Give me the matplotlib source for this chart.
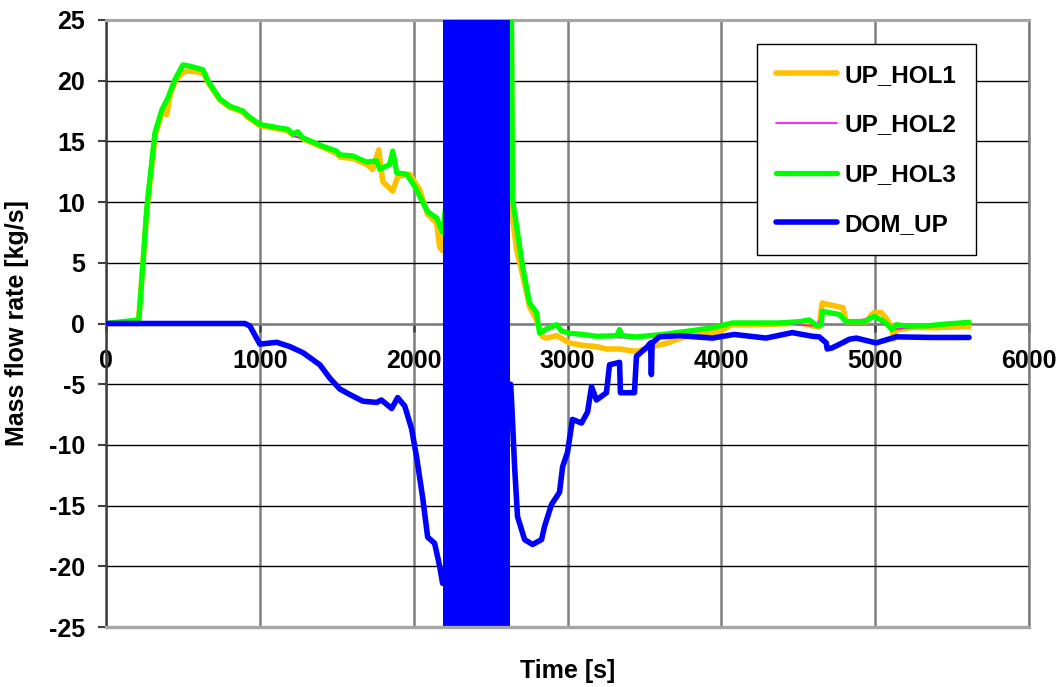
import numpy as np
import matplotlib
matplotlib.use("Agg")
import matplotlib.pyplot as plt

plt.rcParams["font.family"] = ["Liberation Sans", "DejaVu Sans"]
plt.rcParams["font.weight"] = "bold"
plt.rcParams["axes.unicode_minus"] = False

# UP_HOL1 (orange)
hol1_t = [0, 210, 232, 265, 300, 320, 365, 395, 420, 450, 500, 532, 610, 640,
          665, 710, 740, 805, 890, 920, 1000, 1130, 1180, 1215, 1250, 1280, 1410,
          1500, 1520, 1605, 1695, 1734, 1773, 1799, 1864, 1896, 1974, 2039, 2091,
          2149, 2169, 2188, 2400, 2632, 2640, 2669, 2708, 2753, 2799, 2838, 2864,
          2930, 3013, 3100, 3188, 3253, 3338, 3448, 3552, 3650, 3773, 3880, 3987,
          4071, 4200, 4377, 4506, 4636, 4650, 4656, 4682, 4753, 4790, 4812, 4942,
          4975, 4994, 5039, 5080, 5104, 5123, 5140, 5156, 5250, 5370, 5500, 5610]
hol1_v = [0, 0, 3.5, 9.2, 13.3, 15.5, 17.4, 17.2, 19.0, 20.0, 20.7, 20.8, 20.7, 20.5,
          19.8, 19.0, 18.4, 17.8, 17.4, 17.0, 16.3, 16.0, 15.9, 15.5, 15.6, 15.2, 14.5,
          14.0, 13.7, 13.6, 13.1, 12.7, 14.3, 11.7, 10.9, 12.1, 12.3, 11.0, 9.0,
          8.3, 6.3, 6.0, 30, 30, 9.0, 6.1, 4.0, 1.4, 0.3, -1.1, -1.2,
          -1.0, -1.6, -1.8, -1.9, -2.1, -2.1, -2.3, -1.9, -1.6, -1.05, -0.9, -0.65,
          -0.1, -0.1, -0.05, 0.05, -0.3, 1.2, 1.7, 1.6, 1.4, 1.3, 0.15, 0.15,
          0.7, 0.9, 0.9, 0.3, -0.25, -1.3, -0.3, -0.5, -0.3, -0.35, -0.3, -0.25]

# UP_HOL3 (green)
hol3_t = [0, 214, 234, 266, 299, 318, 363, 403, 448, 500, 545, 630, 662, 708, 740,
          805, 890, 922, 1000, 1130, 1182, 1214, 1247, 1279, 1409, 1500, 1519, 1604,
          1695, 1760, 1779, 1844, 1864, 1890, 1955, 2006, 2091, 2149, 2182, 2188,
          2400, 2636, 2643, 2675, 2708, 2753, 2799, 2818, 2870, 2929, 2960, 3013,
          3100, 3188, 3320, 3338, 3355, 3448, 3617, 3800, 3942, 4071, 4377, 4506,
          4571, 4623, 4650, 4656, 4701, 4766, 4812, 4929, 4994, 5058, 5110, 5136,
          5200, 5331, 5450, 5610]
hol3_v = [0, 0.3, 3.9, 9.6, 13.5, 15.7, 17.6, 18.6, 20.1, 21.3, 21.2, 20.9, 20.0, 19.1, 18.5,
          17.9, 17.5, 17.1, 16.4, 16.1, 16.0, 15.6, 15.8, 15.3, 14.6, 14.2, 13.9, 13.8,
          13.3, 13.4, 12.7, 13.1, 14.2, 12.4, 12.3, 11.3, 9.2, 8.7, 7.7, 7.5,
          30, 25, 10.2, 7.5, 4.7, 1.7, 0.9, -0.8, -0.4, -0.1, -0.6, -0.8,
          -0.9, -1.05, -1.0, -0.5, -1.0, -1.1, -0.9, -0.6, -0.35, 0.05, 0.05, 0.15,
          0.3, -0.2, -0.1, 1.0, 0.9, 0.75, 0.15, 0.15, 0.6, 0.15, -0.5, -0.1,
          -0.2, -0.2, -0.05, 0.1]

# UP_HOL2 (magenta, mostly hidden under UP_HOL3)
hol2_t = [0, 214, 234, 266, 299, 318, 363, 403, 448, 500, 545, 630, 662, 708, 740,
          805, 890, 922, 1000, 1130, 1182, 1230, 1255, 1290, 1409, 1500, 1519, 1604,
          1695, 1760, 1779, 1844, 1864, 1890, 1955, 2006, 2080, 2140, 2182, 2188,
          2400, 2636, 2643, 2675, 2708, 2753, 2799, 2818, 2929, 3013, 3188, 3448,
          3617, 3942, 4071, 4377, 4623, 4656, 4766, 4812, 4994, 5110, 5331, 5610]
hol2_v = [0, 0.3, 3.8, 9.5, 13.4, 15.6, 17.5, 18.5, 20.0, 21.2, 21.1, 20.8, 19.9, 19.0, 18.4,
          17.8, 17.4, 17.0, 16.3, 16.0, 15.9, 15.4, 15.3, 15.2, 14.5, 14.1, 13.8, 13.7,
          13.2, 13.3, 12.6, 13.0, 14.0, 12.3, 12.2, 11.2, 9.6, 8.8, 7.6, 7.4,
          30, 25, 10.1, 7.4, 4.6, 1.6, 0.8, -0.9, -0.2, -0.9, -1.1, -1.2,
          -1.0, -0.4, 0.0, 0.0, -0.2, 0.9, 0.7, 0.1, 0.5, -0.5, -0.2, 0.05]

# DOM_UP (blue); NaN splits the trace around the oscillating period
dom_t = [0, 903, 935, 1000, 1110, 1195, 1280, 1390, 1455, 1520, 1585, 1670, 1760,
         1790, 1857, 1896, 1942, 1987, 2019, 2058, 2091, 2136, 2169, 2188, 2400,
         2630, 2636, 2656, 2675, 2721, 2773, 2831, 2851, 2896, 2948, 2968, 3000,
         3032, 3091, 3130, 3156, 3188, 3253, 3273, 3338, 3344, 3435, 3448, 3520,
         3532, 3540, 3545, 3550, 3597, 3727, 3942, 4084, 4290, 4461, 4591, 4636,
         4682, 4688, 4721, 4786, 4831, 4877, 5006, 5136, 5370, 5610]
dom_v = [0, 0, -0.2, -1.7, -1.55, -1.9, -2.4, -3.4, -4.5, -5.4, -5.85, -6.4, -6.5,
         -6.3, -7.0, -6.1, -6.8, -8.7, -11.0, -14.3, -17.6, -18.1, -20.0, -21.4, np.nan,
         -5.0, -6.3, -11.8, -15.9, -17.8, -18.2, -17.8, -16.7, -14.9, -13.9, -11.8, -10.6,
         -7.9, -8.2, -7.3, -5.2, -6.3, -5.7, -3.4, -3.2, -5.7, -5.7, -2.7, -1.9,
         -1.7, -1.6, -4.2, -1.6, -1.1, -1.0, -1.2, -0.9, -1.2, -0.75, -1.05, -1.1,
         -1.6, -2.1, -2.0, -1.6, -1.3, -1.2, -1.6, -1.1, -1.15, -1.15]

# envelope of the fast DOM_UP oscillation (goes off scale both ways)
osc_t = [2188, 2623]
osc_lo = [-40, -40]
osc_hi = [40, 40]

x_ticks = [0, 1000, 2000, 3000, 4000, 5000, 6000]
y_ticks = [-25, -20, -15, -10, -5, 0, 5, 10, 15, 20, 25]

fig = plt.figure(figsize=(10.6, 6.87), dpi=100)
ax = fig.add_axes([0.1, 0.0873, 0.8708, 0.8836])

style = dict(solid_joinstyle="round", solid_capstyle="round")
ax.plot(hol1_t, hol1_v, color="#FFC000", lw=4.0, label="UP_HOL1", zorder=3, **style)
ax.plot(hol2_t, hol2_v, color="#FF00FF", lw=1.2, label="UP_HOL2", zorder=4, **style)
ax.plot(hol3_t, hol3_v, color="#00FF00", lw=3.8, label="UP_HOL3", zorder=5, **style)
ax.plot(dom_t, dom_v, color="#0000FF", lw=4.0, label="DOM_UP", zorder=6, **style)
ax.fill_between(osc_t, osc_lo, osc_hi, color="#0000FF", lw=0, zorder=7)

ax.set_xlim(0, 6000)
ax.set_ylim(-25, 25)
ax.set_xticks(x_ticks)
ax.set_yticks(y_ticks)

ax.yaxis.grid(True, color="black", lw=1.0)
ax.xaxis.grid(True, color="#7f7f7f", lw=1.8)
ax.set_axisbelow(True)

ax.spines["bottom"].set_position(("data", 0))
ax.spines["bottom"].set_color("#7f7f7f")
ax.spines["bottom"].set_linewidth(1.8)
ax.spines["left"].set_color("#404040")
ax.spines["left"].set_linewidth(1.8)
ax.spines["top"].set_color("#a6a6a6")
ax.spines["top"].set_linewidth(2.2)
ax.spines["right"].set_color("#7f7f7f")
ax.spines["right"].set_linewidth(1.8)
ax.axhline(-25, color="#a6a6a6", lw=2.4, zorder=8, clip_on=False)

ax.tick_params(axis="x", direction="out", length=6, width=1.8, color="#404040",
               labelsize=18, pad=12)
ax.tick_params(axis="y", direction="out", length=6, width=1.5, color="#404040",
               labelsize=18, pad=9)

ax.set_xlabel("Time [s]", fontsize=18, fontweight="bold")
ax.xaxis.set_label_coords(0.5, -0.052)
ax.set_ylabel("Mass flow rate [kg/s]", fontsize=18, fontweight="bold")
ax.yaxis.set_label_coords(-0.083, 0.5)

leg = ax.legend(loc="upper left", bbox_to_anchor=(0.705, 0.960), borderaxespad=0,
                fancybox=False, framealpha=1, edgecolor="black",
                prop={"size": 17.5, "weight": "bold"}, handlelength=2.5,
                handletextpad=0.3, labelspacing=1.1, borderpad=0.8)
leg.get_frame().set_linewidth(1.0)
leg.set_zorder(10)

fig.savefig("out.png", dpi=100)
